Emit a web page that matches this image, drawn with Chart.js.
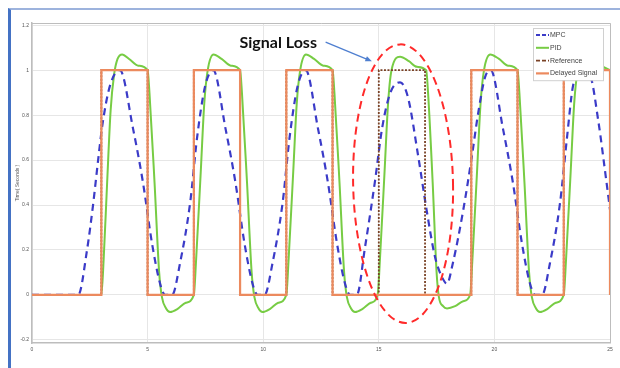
<!DOCTYPE html>
<html>
<head>
<meta charset="utf-8">
<script src="https://cdn.jsdelivr.net/npm/chart.js@4.4.1/dist/chart.umd.min.js"></script>
<style>
html, body { margin: 0; padding: 0; background: #fff; }
#wrap { position: relative; width: 620px; height: 368px; overflow: hidden; }
#frame {
    position: absolute; left: 8px; top: 8px; right: -4px; bottom: -4px;
    border-left: 3px solid #4472c4; border-top: 2px solid #9db3dd;
    pointer-events: none;
}
</style>
</head>
<body>
<div id="wrap">
<canvas id="chart" width="620" height="368"></canvas>
<div id="frame"></div>
</div>
<script>
// TICKS
const xTicks = [0, 5, 10, 15, 20, 25];
const yTicks = [-0.2, 0, 0.2, 0.4, 0.6, 0.8, 1, 1.2];

// MPC (blue dashed)
const mpcX = [0, 2.0, 2.38, 2.64, 2.86, 3.05, 3.37, 3.8, 4.37, 4.8, 5.19, 5.54, 5.76, 6.06,
    6.4, 6.84, 7.14, 7.49, 7.84, 8.37, 8.8, 9.19, 9.54, 9.76, 10.06,
    10.4, 10.84, 11.14, 11.49, 11.84, 12.37, 12.8, 13.19, 13.54, 13.76, 14.05,
    14.4, 14.84, 15.14, 15.5, 15.92, 16.26, 16.7, 17.08, 17.43, 17.73, 17.95,
    18.2, 18.64, 19.03, 19.3, 19.6, 19.84, 20.37, 20.8, 21.19, 21.54, 21.76, 22.06,
    22.4, 22.84, 23.14, 23.4, 23.8, 24.13, 24.5, 24.8, 25];
const mpcY = [0, 0, 0.2, 0.4, 0.6, 0.76, 0.93, 1.0, 0.74, 0.5, 0.23, 0.05, 0.0, 0.0,
    0.14, 0.41, 0.70, 0.93, 1.0, 0.74, 0.5, 0.23, 0.05, 0.0, 0.0,
    0.14, 0.41, 0.70, 0.93, 1.0, 0.74, 0.5, 0.23, 0.05, 0.0, 0.0,
    0.21, 0.51, 0.74, 0.90, 0.946, 0.88, 0.62, 0.37, 0.17, 0.08, 0.05,
    0.14, 0.37, 0.62, 0.81, 0.97, 1.0, 0.74, 0.5, 0.23, 0.05, 0.0, 0.0,
    0.14, 0.41, 0.70, 0.93, 1.0, 0.98, 0.77, 0.54, 0.38];

// PID (green)
const pidX = [0, 3.0, 3.1, 3.25, 3.4, 3.55, 3.7, 3.9, 4.2, 4.6, 5.0,
    5.08, 5.3, 5.5, 5.62, 5.8, 5.97, 6.3, 6.65, 7.0,
    7.1, 7.3, 7.45, 7.6, 7.85, 8.2, 8.6, 9.0,
    9.08, 9.3, 9.5, 9.62, 9.8, 9.97, 10.3, 10.65, 11.0,
    11.1, 11.3, 11.45, 11.6, 11.85, 12.2, 12.6, 13.0,
    13.08, 13.3, 13.5, 13.62, 13.8, 13.97, 14.3, 14.65, 14.95,
    15.05, 15.25, 15.4, 15.55, 15.92, 16.3, 16.65, 17.05,
    17.13, 17.33, 17.5, 17.6, 17.78, 17.95, 18.3, 18.65, 18.95,
    19.05, 19.25, 19.4, 19.55, 19.82, 20.2, 20.6, 21.0,
    21.08, 21.3, 21.5, 21.62, 21.8, 21.97, 22.3, 22.65, 23.0,
    23.1, 23.3, 23.45, 23.6, 23.85, 24.2, 24.6, 25];
const pidY = [0, 0, 0.16, 0.5, 0.82, 0.98, 1.05, 1.07, 1.05, 1.02, 1.0,
    0.9, 0.5, 0.1, -0.01, -0.06, -0.076, -0.062, -0.035, 0,
    0.16, 0.55, 0.85, 1.0, 1.07, 1.05, 1.02, 1.0,
    0.9, 0.5, 0.1, -0.01, -0.06, -0.076, -0.062, -0.035, 0,
    0.16, 0.55, 0.85, 1.0, 1.07, 1.05, 1.02, 1.0,
    0.9, 0.5, 0.1, -0.01, -0.06, -0.076, -0.062, -0.035, 0,
    0.16, 0.55, 0.85, 1.0, 1.06, 1.04, 1.015, 1.0,
    0.9, 0.5, 0.1, -0.01, -0.05, -0.06, -0.05, -0.028, 0,
    0.16, 0.55, 0.85, 1.0, 1.07, 1.05, 1.02, 1.0,
    0.9, 0.5, 0.1, -0.01, -0.06, -0.076, -0.062, -0.035, 0,
    0.16, 0.55, 0.85, 1.0, 1.07, 1.05, 1.02, 1.0];

// REFERENCE (square wave)
const refX = [0, 3, 3, 5, 5, 7, 7, 9, 9, 11, 11, 13, 13, 15, 15, 17, 17, 19, 19, 21, 21, 23, 23, 25];
const refY = [0, 0, 1, 1, 0, 0, 1, 1, 0, 0, 1, 1, 0, 0, 1, 1, 0, 0, 1, 1, 0, 0, 1, 1];

// DELAYED SIGNAL (lost between 15 and 17)
const delX = [0, 3, 3, 5, 5, 7, 7, 9, 9, 11, 11, 13, 13, 19, 19, 21, 21, 23, 23, 25, 25];
const delY = [0, 0, 1, 1, 0, 0, 1, 1, 0, 0, 1, 1, 0, 0, 1, 1, 0, 0, 1, 1, 0];

// ANNOTATION (data units)
const lossLabel = "Signal Loss";
const lossLabelAt = [10.65, 1.12];
const arrowFrom = [12.7, 1.125];
const arrowTo = [14.7, 1.04];
const ellipseCenter = [16.05, 0.495];
const ellipseRadius = [2.16, 0.62];

const toPoints = (xs, ys) => xs.map((x, i) => ({ x: x, y: ys[i] }));

// OVERLAY: plot box, ellipse, arrow, label, legend
const overlayPlugin = {

    id: "overlayPlugin",

    afterDraw(chart) {

        const ctx = chart.ctx;
        const area = chart.chartArea;
        const sx = chart.scales.x;
        const sy = chart.scales.y;

        ctx.save();

        // top and right border of the box
        ctx.strokeStyle = "#bdbdbd";
        ctx.lineWidth = 1;
        ctx.beginPath();
        ctx.moveTo(area.left, area.top + 0.5);
        ctx.lineTo(area.right + 0.5, area.top + 0.5);
        ctx.lineTo(area.right + 0.5, area.bottom);
        ctx.stroke();

        // red dashed ellipse
        const cx = sx.getPixelForValue(ellipseCenter[0]);
        const cy = sy.getPixelForValue(ellipseCenter[1]);
        const rx = sx.getPixelForValue(ellipseCenter[0] + ellipseRadius[0]) - cx;
        const ry = cy - sy.getPixelForValue(ellipseCenter[1] + ellipseRadius[1]);
        ctx.strokeStyle = "#ff2a2a";
        ctx.lineWidth = 2;
        ctx.setLineDash([8, 5]);
        ctx.beginPath();
        ctx.ellipse(cx, cy, rx, ry, -0.02, 0, Math.PI * 2);
        ctx.stroke();
        ctx.setLineDash([]);

        // arrow
        const ax1 = sx.getPixelForValue(arrowFrom[0]);
        const ay1 = sy.getPixelForValue(arrowFrom[1]);
        const ax2 = sx.getPixelForValue(arrowTo[0]);
        const ay2 = sy.getPixelForValue(arrowTo[1]);
        const ang = Math.atan2(ay2 - ay1, ax2 - ax1);
        ctx.strokeStyle = "#4f7fd0";
        ctx.fillStyle = "#4f7fd0";
        ctx.lineWidth = 1.3;
        ctx.beginPath();
        ctx.moveTo(ax1, ay1);
        ctx.lineTo(ax2 - 5 * Math.cos(ang), ay2 - 5 * Math.sin(ang));
        ctx.stroke();
        ctx.beginPath();
        ctx.moveTo(ax2, ay2);
        ctx.lineTo(ax2 - 7 * Math.cos(ang - 0.4), ay2 - 7 * Math.sin(ang - 0.4));
        ctx.lineTo(ax2 - 7 * Math.cos(ang + 0.4), ay2 - 7 * Math.sin(ang + 0.4));
        ctx.closePath();
        ctx.fill();

        // label
        ctx.fillStyle = "#111";
        ctx.font = "bold 16px Lato";
        ctx.textAlign = "center";
        ctx.textBaseline = "middle";
        ctx.fillText(lossLabel, sx.getPixelForValue(lossLabelAt[0]), sy.getPixelForValue(lossLabelAt[1]));

        // legend
        const rowH = 12.8;
        const boxW = 70;
        const bx = area.right - 77;
        const by = area.top + 5;
        const sets = chart.data.datasets;
        ctx.fillStyle = "#fff";
        ctx.fillRect(bx, by, boxW, rowH * sets.length + 1);
        ctx.strokeStyle = "#d0d0d0";
        ctx.lineWidth = 1;
        ctx.strokeRect(bx + 0.5, by + 0.5, boxW, rowH * sets.length + 1);
        ctx.font = "7px 'Liberation Sans'";
        ctx.textAlign = "left";
        sets.forEach((ds, i) => {
            const y = by + 7 + i * rowH;
            ctx.strokeStyle = ds.borderColor;
            ctx.lineWidth = ds.borderWidth;
            ctx.setLineDash(ds.borderDash ? [4, 2] : []);
            ctx.beginPath();
            ctx.moveTo(bx + 3, y);
            ctx.lineTo(bx + 16, y);
            ctx.stroke();
            ctx.setLineDash([]);
            ctx.fillStyle = "#444";
            ctx.fillText(ds.label, bx + 17, y);
        });

        ctx.restore();
    }
};

const tickFont = { family: "'Liberation Sans'", size: 5 };

new Chart(document.getElementById("chart"), {
    type: "line",

    data: {
        datasets: [
            {
                label: "MPC",
                data: toPoints(mpcX, mpcY),
                borderColor: "#3b3bc8",
                borderWidth: 2.2,
                borderDash: [7, 5],
                cubicInterpolationMode: "monotone",
                pointRadius: 0,
                order: 3
            },
            {
                label: "PID",
                data: toPoints(pidX, pidY),
                borderColor: "#77cc44",
                borderWidth: 2,
                cubicInterpolationMode: "monotone",
                pointRadius: 0,
                order: 4
            },
            {
                label: "Reference",
                data: toPoints(refX, refY),
                borderColor: "#7a4226",
                borderWidth: 1.8,
                borderDash: [2, 1.5],
                tension: 0,
                pointRadius: 0,
                order: 2
            },
            {
                label: "Delayed Signal",
                data: toPoints(delX, delY),
                borderColor: "#ec8a5e",
                borderWidth: 2.2,
                tension: 0,
                pointRadius: 0,
                order: 1
            }
        ]
    },

    options: {
        responsive: false,
        animation: false,
        layout: {
            padding: { left: 0, right: 10, top: 23, bottom: 0 }
        },
        plugins: {
            legend: { display: false },
            tooltip: { enabled: false }
        },
        scales: {
            x: {
                type: "linear",
                min: 0,
                max: 25,
                afterBuildTicks: (scale) => {
                    scale.ticks = xTicks.map((v) => ({ value: v }));
                },
                afterFit: (scale) => { scale.height = 25; },
                ticks: {
                    color: "#555",
                    font: tickFont,
                    padding: 4,
                    maxRotation: 0
                },
                grid: {
                    color: "#e6e6e6",
                    drawTicks: false
                },
                border: { color: "#bdbdbd", width: 1.5 }
            },
            y: {
                min: -0.214,
                max: 1.21,
                afterBuildTicks: (scale) => {
                    scale.ticks = yTicks.map((v) => ({ value: v }));
                },
                afterFit: (scale) => { scale.width = 32; },
                ticks: {
                    color: "#555",
                    font: tickFont,
                    padding: 3,
                    callback: (v) => String(Math.round(v * 10) / 10)
                },
                grid: {
                    color: "#e6e6e6",
                    drawTicks: false
                },
                border: { color: "#bdbdbd", width: 1.5 },
                title: {
                    display: true,
                    text: "Time( Seconds )",
                    color: "#555",
                    font: tickFont,
                    padding: { top: 15, bottom: 0 }
                }
            }
        }
    },

    plugins: [overlayPlugin]
});
</script>
</body>
</html>
